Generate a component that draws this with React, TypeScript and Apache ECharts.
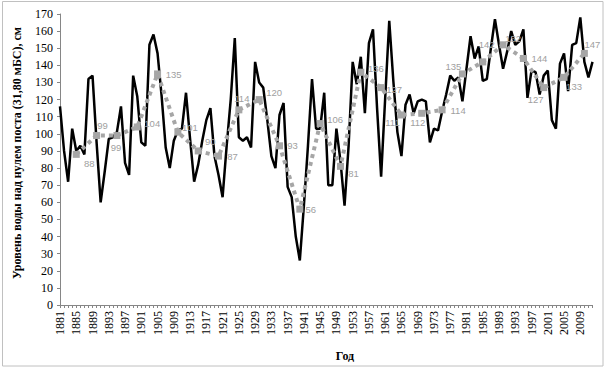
import React, { useEffect, useRef } from "react";
import * as echarts from "echarts";

const firstYear = 1881;
const lastYear = 2012;
const years: string[] = [];
for (let y = firstYear; y <= lastYear; y++) years.push(String(y));

// Annual water level, cm (1881–2012)
const annualLevel: number[] = [
  116, 90, 72, 103, 90, 93, 88, 132, 134, 95,
  60, 78, 97, 98, 101, 116, 83, 76, 134, 122,
  95, 93, 152, 158, 147, 122, 92, 80, 96, 102,
  103, 124, 97, 72, 82, 96, 108, 115, 87, 76,
  63, 93, 120, 156, 98, 96, 98, 92, 142, 130,
  127, 108, 87, 80, 111, 118, 69, 63, 40, 26,
  58, 93, 132, 103, 103, 124, 70, 70, 103, 84,
  58, 93, 142, 129, 145, 112, 153, 161, 115, 75,
  121, 166, 131, 101, 87, 117, 123, 112, 119, 120,
  119, 95, 103, 102, 113, 123, 134, 131, 133, 119,
  138, 157, 144, 151, 131, 132, 150, 167, 152, 138,
  148, 160, 152, 154, 161, 121, 137, 136, 123, 134,
  137, 108, 103, 141, 147, 125, 152, 153, 168, 142,
  133, 142,
];

// 5-year moving average (centred)
const avgYears: number[] = [
  1885, 1890, 1895, 1900, 1905, 1910, 1915, 1920, 1925, 1930, 1935, 1940, 1945,
  1950, 1955, 1960, 1965, 1970, 1975, 1980, 1985, 1990, 1995, 2000, 2005, 2010,
];
const avgValues: number[] = [
  88, 99, 99, 104, 135, 101, 90, 87, 114, 120, 93, 56, 106,
  81, 136, 127, 111, 112, 114, 135, 142, 152, 144, 127, 133, 147,
];

// label offsets (style only)
const avgLabelOffset: Record<number, [number, number]> = {
  1885: [13, 9], 1890: [6, -10], 1895: [-1, 12], 1900: [15, -3], 1905: [16, 1],
  1910: [12, -5], 1915: [12, -9], 1920: [14, 0], 1925: [3, -11], 1930: [15, -7],
  1935: [13, 0], 1940: [11, 0], 1945: [15, -4], 1950: [13, 7], 1955: [15, -4],
  1960: [13, 2], 1965: [-9, 8], 1970: [-4, 9], 1975: [16, 1], 1980: [-9, -7],
  1985: [4, -17], 1990: [10, -6], 1995: [16, 0], 2000: [-8, 12], 2005: [10, 9],
  2010: [8, -9],
};

const yTitle = "Уровень воды над нулем поста (31,80 мБС), см";
const xTitle = "Год";

export default function App() {
  const ref = useRef<HTMLDivElement>(null);
  useEffect(() => {
    document.body.style.margin = "0";
    if (!ref.current) return;
    const chart = echarts.init(ref.current, undefined, { renderer: "svg" });

    const avgData: any[] = years.map(() => null);
    avgYears.forEach((yr, i) => {
      const idx = yr - firstYear;
      avgData[idx] = {
        value: avgValues[i],
        label: { offset: avgLabelOffset[yr] || [12, 0] },
      };
    });

    const serif = "'Times New Roman', 'Liberation Serif', serif";
    const axisGray = "#868686";
    const gray = "#a6a6a6";

    chart.setOption({
      animation: false,
      backgroundColor: "#fff",
      grid: { left: 60, right: 12.5, top: 14, bottom: 64 },
      xAxis: {
        type: "category",
        data: years,
        boundaryGap: false,
        axisLine: { lineStyle: { color: axisGray, width: 1 } },
        axisTick: { interval: 0, length: 3, lineStyle: { color: axisGray } },
        axisLabel: {
          interval: 3,
          rotate: 90,
          fontFamily: serif,
          fontSize: 12,
          color: "#000",
          margin: 6,
        },
        splitLine: { show: false },
      },
      yAxis: {
        type: "value",
        min: 0,
        max: 170,
        interval: 10,
        axisLine: { show: true, lineStyle: { color: axisGray, width: 1 } },
        axisTick: { show: true, length: 3, lineStyle: { color: axisGray } },
        axisLabel: { fontFamily: serif, fontSize: 12, color: "#000", margin: 7 },
        splitLine: { show: false },
      },
      series: [
        {
          type: "line",
          data: annualLevel,
          symbol: "none",
          lineStyle: { color: "#000", width: 2.5 },
          z: 2,
        },
        {
          type: "line",
          data: avgData,
          connectNulls: true,
          symbol: "rect",
          symbolSize: 7,
          showAllSymbol: true,
          itemStyle: { color: gray },
          lineStyle: { color: gray, width: 4, type: [4, 4], cap: "butt" },
          label: {
            show: true,
            position: "inside",
            color: "#a0a0a0",
            fontSize: 9.5,
            fontFamily: "'Liberation Sans', Arial, sans-serif",
          },
          z: 3,
        },
      ],
      graphic: [
        {
          type: "rect",
          shape: { x: 2.5, y: 1.5, width: 600.5, height: 364.5 },
          style: { fill: "none", stroke: "#c0c0c0", lineWidth: 1 },
          silent: true,
        },
        {
          type: "text",
          x: 17,
          y: 153,
          rotation: Math.PI / 2,
          style: {
            text: yTitle,
            fontFamily: serif,
            fontWeight: "bold",
            fontSize: 12,
            fill: "#000",
            align: "center",
            verticalAlign: "middle",
          },
        },
        {
          type: "text",
          x: 345,
          y: 356,
          style: {
            text: xTitle,
            fontFamily: serif,
            fontWeight: "bold",
            fontSize: 12,
            fill: "#000",
            align: "center",
            verticalAlign: "middle",
          },
        },
      ],
    });
    return () => chart.dispose();
  }, []);
  return <div ref={ref} style={{ width: 605, height: 369 }} />;
}
